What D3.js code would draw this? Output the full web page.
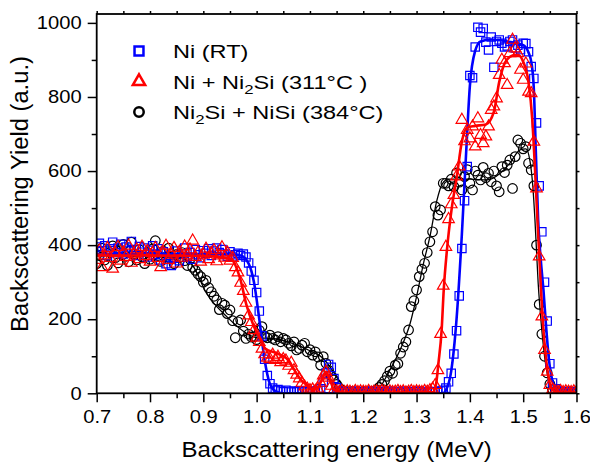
<!DOCTYPE html>
<html>
<head>
<meta charset="utf-8">
<script src="https://cdn.jsdelivr.net/npm/d3@7"></script>
<style>
  html, body { margin: 0; padding: 0; background: #fff; }
  svg { display: block; }
  text { font-family: "Liberation Sans", Arial, sans-serif; fill: #000; }
</style>
</head>
<body>
<svg id="chart" width="590" height="463"></svg>
<script>
// RBS spectra: channel energies (MeV) shared by all three samples
const energies = [
  0.700,0.705,0.710,0.715,0.720,0.725,0.730,0.735,0.740,0.745,
  0.750,0.755,0.760,0.765,0.770,0.775,0.780,0.785,0.790,0.795,
  0.800,0.805,0.810,0.815,0.820,0.825,0.830,0.835,0.840,0.845,
  0.850,0.855,0.860,0.865,0.870,0.875,0.880,0.885,0.890,0.895,
  0.900,0.905,0.910,0.915,0.920,0.925,0.930,0.935,0.940,0.945,
  0.950,0.955,0.960,0.965,0.970,0.975,0.980,0.985,0.990,0.995,
  1.000,1.005,1.010,1.015,1.020,1.025,1.030,1.035,1.040,1.045,
  1.050,1.055,1.060,1.065,1.070,1.075,1.080,1.085,1.090,1.095,
  1.100,1.105,1.110,1.115,1.120,1.125,1.130,1.135,1.140,1.145,
  1.150,1.155,1.160,1.165,1.170,1.175,1.180,1.185,1.190,1.195,
  1.200,1.205,1.210,1.215,1.220,1.225,1.230,1.235,1.240,1.245,
  1.250,1.255,1.260,1.265,1.270,1.275,1.280,1.285,1.290,1.295,
  1.300,1.305,1.310,1.315,1.320,1.325,1.330,1.335,1.340,1.345,
  1.350,1.355,1.360,1.365,1.370,1.375,1.380,1.385,1.390,1.395,
  1.400,1.405,1.410,1.415,1.420,1.425,1.430,1.435,1.440,1.445,
  1.450,1.455,1.460,1.465,1.470,1.475,1.480,1.485,1.490,1.495,
  1.500,1.505,1.510,1.515,1.520,1.525,1.530,1.535,1.540,1.545,
  1.550,1.555,1.560,1.565,1.570,1.575,1.580,1.585,1.590,1.595,
  1.600
];

// Measured yields (a.u.)
const yieldNiRT = [
  395,405,385,398,372,390,408,380,392,402,
  376,395,384,410,388,372,396,381,392,368,
  386,398,375,390,360,382,350,372,345,365,
  384,358,376,392,368,380,362,388,374,366,
  385,378,390,372,384,392,380,388,376,370,
  382,368,374,378,372,376,368,352,330,305,
  272,222,155,92,48,26,14,8,10,6,
  4,8,5,3,6,4,7,3,5,4,
  6,3,5,8,12,30,55,78,70,40,
  15,6,4,3,5,2,4,6,3,5,
  2,4,3,6,4,2,5,3,4,6,
  3,2,5,4,3,6,2,4,5,3,
  4,6,3,2,5,4,3,5,4,6,
  8,14,31,54,106,169,263,391,520,612,
  858,852,935,988,975,985,948,927,962,880,
  950,954,945,935,938,950,954,932,940,928,
  945,944,922,882,850,730,560,436,300,195,
  80,28,12,6,4,3,5,2,4,3,
  2
];

const yieldNiNi2Si = [
  360,385,340,372,392,365,336,378,395,358,
  380,368,398,352,375,388,362,395,370,384,
  355,378,392,365,340,380,398,360,374,392,
  350,382,366,396,372,388,412,368,380,355,
  374,390,362,378,386,356,372,394,366,380,
  358,365,340,326,298,276,244,210,192,170,
  150,138,120,105,96,92,104,90,98,84,
  92,88,74,82,62,50,40,28,18,12,
  8,10,6,12,28,48,58,42,20,8,
  5,4,6,3,5,4,2,6,3,5,
  4,3,6,2,4,5,3,6,4,2,
  5,3,4,6,3,5,2,4,6,3,
  5,4,3,6,4,8,12,22,62,160,
  290,395,470,510,535,585,612,738,680,711,
  688,720,666,742,697,675,693,720,765,774,
  796,859,900,891,832,918,954,931,918,873,
  846,890,814,810,679,553,369,207,117,58,
  22,10,5,4,6,3,5,4,3,5,
  4
];

const yieldNi2SiNiSi = [
  350,372,392,360,345,380,398,366,352,385,
  402,370,355,408,376,360,388,368,350,380,
  362,390,412,372,356,384,368,392,362,350,
  375,366,380,358,345,362,340,332,322,315,
  300,305,285,274,262,252,226,243,238,215,
  225,196,150,193,198,168,148,160,152,153,
  145,170,180,153,150,157,148,144,153,139,
  148,144,135,128,139,117,121,130,135,112,
  118,103,112,98,76,99,81,62,48,36,
  24,14,8,6,4,3,5,2,4,3,
  5,2,4,3,6,10,16,24,34,46,
  60,54,76,80,108,125,139,171,234,250,
  279,315,335,351,380,409,436,504,481,495,
  567,567,560,578,558,595,570,549,585,604,
  567,549,600,589,576,610,582,594,571,600,
  560,544,612,596,616,630,553,639,684,675,
  660,666,621,603,560,400,240,160,100,55,
  25,10,5,3,4,2,3,4,2,3,
  2
];

// Simulated spectra (fit curves), as [energy, yield] knots
const fitNiRT = [
  [0.70,375],[0.80,376],[0.90,376],[0.95,375],[0.97,372],[0.985,350],[0.995,300],
  [1.005,200],[1.015,90],[1.025,25],[1.035,6],[1.05,0],[1.12,0],[1.35,0],
  [1.355,8],[1.365,60],[1.375,200],[1.385,430],[1.393,650],[1.40,830],[1.41,925],
  [1.42,950],[1.44,955],[1.47,950],[1.50,940],[1.51,920],[1.516,888],[1.52,820],
  [1.524,640],[1.528,470],[1.533,360],[1.538,279],[1.543,180],[1.548,95],
  [1.556,28],[1.565,6],[1.575,0],[1.60,0]
];

const fitNiNi2Si = [
  [0.70,372],[0.80,372],[0.90,371],[0.95,364],[0.969,310],[0.981,238],[0.994,184],
  [1.006,148],[1.016,121],[1.038,108],[1.056,94],[1.069,67],[1.081,40],[1.094,22],
  [1.105,9],[1.115,14],[1.123,40],[1.130,58],[1.137,40],[1.145,10],[1.16,2],
  [1.33,3],[1.336,20],[1.341,81],[1.347,170],[1.351,280],[1.357,387],[1.366,500],
  [1.375,580],[1.385,680],[1.395,718],[1.41,722],[1.43,726],[1.445,760],[1.455,840],
  [1.465,890],[1.48,912],[1.49,914],[1.50,895],[1.51,840],[1.517,740],[1.522,610],
  [1.527,460],[1.532,320],[1.537,190],[1.542,105],[1.548,40],[1.555,10],[1.565,2],
  [1.60,2]
];

const fitNi2SiNiSi = [
  [0.70,372],[0.80,370],[0.86,364],[0.88,345],[0.906,270],[0.944,207],[0.981,162],
  [1.00,150],[1.03,148],[1.063,137],[1.10,115],[1.125,94],[1.144,58],[1.156,31],
  [1.17,12],[1.19,2],[1.22,3],[1.232,18],[1.25,63],[1.269,117],[1.288,189],
  [1.30,261],[1.313,351],[1.325,423],[1.338,520],[1.348,565],[1.36,578],[1.40,578],
  [1.432,576],[1.457,594],[1.475,621],[1.494,657],[1.505,660],[1.513,625],
  [1.518,560],[1.522,470],[1.528,300],[1.535,170],[1.542,80],[1.55,25],[1.56,5],
  [1.60,1]
];

const xTicks = [0.7, 0.8, 0.9, 1.0, 1.1, 1.2, 1.3, 1.4, 1.5, 1.6];
const xMinorTicks = [0.75, 0.85, 0.95, 1.05, 1.15, 1.25, 1.35, 1.45, 1.55];
const yTicks = [0, 200, 400, 600, 800, 1000];
const yMinorTicks = [100, 300, 500, 700, 900];
const legendLabels = ["Ni (RT)", "Ni + Ni₂Si (311°C )", "Ni₂Si + NiSi (384°C)"];

const svg = d3.select("#chart");
const M = { left: 96.7, right: 576.5, top: 14, bottom: 393.3 };

const x = d3.scaleLinear().domain([0.7, 1.6]).range([M.left, M.right]);
const y = d3.scaleLinear().domain([0, 1024]).range([M.bottom, M.top]);

svg.append("clipPath").attr("id", "clip")
  .append("rect").attr("x", M.left).attr("y", M.top - 6)
  .attr("width", M.right - M.left).attr("height", M.bottom - M.top + 6);

const series = [
  { vals: yieldNi2SiNiSi, fit: fitNi2SiNiSi, color: "#000000", shape: d3.symbolCircle, size: 72, lw: 1.3 },
  { vals: yieldNiRT, fit: fitNiRT, color: "#0000ff", shape: d3.symbolSquare, size: 70, lw: 2.6 },
  { vals: yieldNiNi2Si, fit: fitNiNi2Si, color: "#ff0000", shape: d3.symbolTriangle, size: 58, lw: 2.6 }
];

const line = d3.line().x(d => x(d[0])).y(d => y(d[1])).curve(d3.curveMonotoneX);
const dataLayer = svg.append("g").attr("clip-path", "url(#clip)");

series.forEach(s => {
  const pts = energies.map((e, i) => [e, s.vals[i]]);
  const g = dataLayer.append("g");
  g.selectAll("path.m").data(pts).join("path")
    .attr("class", "m")
    .attr("d", d3.symbol().type(s.shape).size(s.size))
    .attr("transform", d => `translate(${x(d[0])},${y(d[1])})`)
    .attr("fill", "none")
    .attr("stroke", s.color)
    .attr("stroke-width", 1.2);
  g.append("path").datum(s.fit)
    .attr("d", line)
    .attr("fill", "none")
    .attr("stroke", s.color)
    .attr("stroke-width", s.lw);
});

// Axes (labels slightly widened, as in the original typesetting)
const axisFont = 18;
const stretch = 1.12;
const xAxis = d3.axisBottom(x).tickValues(xTicks).tickFormat(d3.format(".1f")).tickSize(9).tickPadding(8);
const xMinor = d3.axisBottom(x).tickValues(xMinorTicks).tickSize(5).tickFormat("");
const yAxis = d3.axisLeft(y).tickValues(yTicks).tickFormat(d3.format("d")).tickSize(9).tickPadding(6);
const yMinor = d3.axisLeft(y).tickValues(yMinorTicks).tickSize(5).tickFormat("");
const xTop = d3.axisTop(x).tickValues(xTicks.concat(xMinorTicks)).tickSize(3).tickFormat("");
const yRight = d3.axisRight(y).tickValues(yTicks.concat(yMinorTicks)).tickSize(3).tickFormat("");

function styleAxis(g) {
  g.select(".domain").remove();
  g.selectAll("line").attr("stroke", "#000").attr("stroke-width", 1.5);
  g.selectAll("text").attr("font-size", axisFont).attr("font-family", "Liberation Sans, Arial, sans-serif").attr("fill", "#000");
}
svg.append("g").attr("transform", `translate(0,${M.bottom})`).call(xAxis).call(styleAxis)
  .selectAll("text").attr("transform", `scale(${stretch},1)`);
svg.append("g").attr("transform", `translate(0,${M.bottom})`).call(xMinor).call(styleAxis);
svg.append("g").attr("transform", `translate(${M.left},0)`).call(yAxis).call(styleAxis)
  .selectAll("text").attr("x", -15 / stretch).attr("transform", `scale(${stretch},1)`);
svg.append("g").attr("transform", `translate(${M.left},0)`).call(yMinor).call(styleAxis);
svg.append("g").attr("transform", `translate(0,${M.top})`).call(xTop).call(styleAxis);
svg.append("g").attr("transform", `translate(${M.right},0)`).call(yRight).call(styleAxis);

svg.append("rect").attr("x", M.left).attr("y", M.top)
  .attr("width", M.right - M.left).attr("height", M.bottom - M.top)
  .attr("fill", "none").attr("stroke", "#000").attr("stroke-width", 1.8);

// Axis titles
svg.append("text")
  .attr("transform", `translate(${(M.left + M.right) / 2},456.5) scale(1.12,1)`)
  .attr("text-anchor", "middle").attr("font-size", 21.5)
  .text("Backscattering energy (MeV)");
svg.append("text")
  .attr("transform", `translate(28,194) rotate(-90) scale(1.08,1.12)`)
  .attr("text-anchor", "middle").attr("font-size", 22)
  .text("Backscattering Yield (a.u.)");

// Legend: "₂" in a label is drawn as a lowered, smaller "2"
const legendMarks = [
  { shape: d3.symbolSquare, size: 80, color: "#0000ff" },
  { shape: d3.symbolTriangle, size: 66, color: "#ff0000" },
  { shape: d3.symbolCircle, size: 70, color: "#000000" }
];
const lg = svg.append("g");
legendLabels.forEach((label, i) => {
  const cy = 51 + i * 30.5;
  const mk = legendMarks[i];
  lg.append("path")
    .attr("d", d3.symbol().type(mk.shape).size(mk.size))
    .attr("transform", `translate(139,${cy})`)
    .attr("fill", "none").attr("stroke", mk.color).attr("stroke-width", 2.5);
  const t = lg.append("text")
    .attr("transform", `translate(173,${cy + 7}) scale(1.24,1)`)
    .attr("font-size", 19);
  const pieces = label.split("₂");
  pieces.forEach((p, k) => {
    if (k > 0) {
      t.append("tspan").attr("font-size", 13.5).attr("dy", 5).text("2");
      t.append("tspan").attr("dy", -5).text(p);
    } else {
      t.append("tspan").text(p);
    }
  });
});
</script>
</body>
</html>
